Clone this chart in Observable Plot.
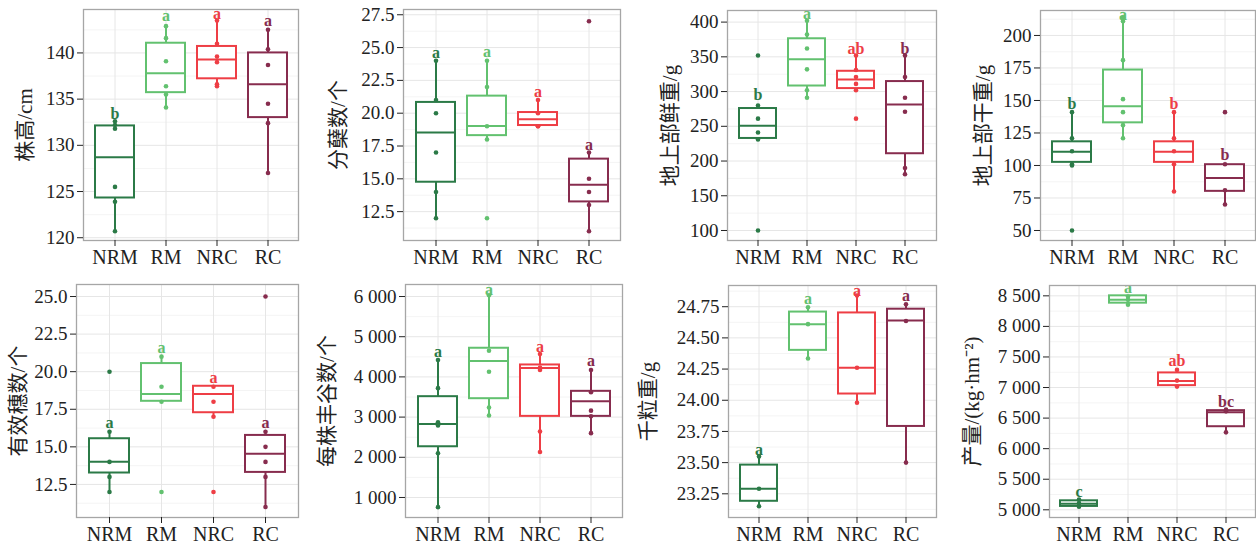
<!DOCTYPE html>
<html>
<head>
<meta charset="utf-8">
<script src="https://cdn.jsdelivr.net/npm/d3@7"></script>
<script src="https://cdn.jsdelivr.net/npm/@observablehq/plot@0.6"></script>
<style>
  html, body { margin: 0; padding: 0; background: #fff; }
  #wrap { position: relative; width: 1256px; height: 546px; overflow: hidden; }
  .cell { position: absolute; }
</style>
</head>
<body>
<div id="wrap"></div>
<script>
const groups = ["NRM", "RM", "NRC", "RC"];
const colors = ["#2b7a47", "#62c16f", "#ee3e45", "#872c4e"];

// Panel 1: 株高/cm
const p1Title = "株高/cm";
const p1Pts = [[120.7,123.9,125.5,131.8,132.2,132.6],[142.9,141.6,139.1,136.4,135.5,134.1],[143.5,141.0,139.6,139.0,136.6,136.4],[142.5,140.4,138.7,134.5,132.4,127.0]];
const p1Box = [[120.7,124.3,128.7,132.1,132.6],[134.1,135.7,137.8,141.05,142.9],[136.4,137.2,139.3,140.7,143.5],[127.0,133.0,136.6,140.0,142.5]];
const p1Lab = ["b","a","a","a"];
const p1LabY = [133.4,144.0,144.2,143.5];
const p1Ticks = [120,125,130,135,140];

// Panel 2: 分蘖数/个
const p2Title = "分蘖数/个";
const p2Pts = [[24,21,20,17,14,12],[24,22,19,18,12],[21,20,19,19],[27,17,15,14,13,11]];
const p2Box = [[12,14.74,18.52,20.82,24],[18,18.29,19.03,21.3,24],[19,19.06,19.54,20.05,21],[11,13.24,14.54,16.5,17]];
const p2Lab = ["a","a","a","a"];
const p2LabY = [24.6,24.7,21.6,17.55];
const p2Ticks = [12.5,15,17.5,20,22.5,25,27.5];

// Panel 3: 地上部鲜重/g
const p3Title = "地上部鲜重/g";
const p3Pts = [[352,280,261,241,231,100],[402,382,362,332,302,291],[352,331,321,311,302,261],[352,321,291,271,190,181]];
const p3Box = [[230,232.5,250.7,275.6,281],[291,308,346.4,376,402],[301,304.3,317.2,329.2,352],[181,210.5,281.3,314.4,352]];
const p3Lab = ["b","a","ab","b"];
const p3LabY = [295.7,412,361.7,361.7];
const p3Ticks = [100,150,200,250,300,350,400];

// Panel 4: 地上部干重/g
const p4Title = "地上部干重/g";
const p4Pts = [[141,121,111,101,100,50],[214,211,181,151,141,131,121],[141,121,111,101,80],[141,101,81,70]];
const p4Box = [[100.3,102.4,110.6,118.2,140.7],[120.5,132.8,145.6,173.4,214],[80.1,102.4,110.6,118.2,140.7],[70.2,80.1,90.4,100.6,100.6]];
const p4Lab = ["b","a","b","b"];
const p4LabY = [147.6,216,147.6,108.5];
const p4Ticks = [50,75,100,125,150,175,200];

// Panel 5: 有效穗数/个
const p5Title = "有效穗数/个";
const p5Pts = [[20,16,14,13,12],[21,19,18,12],[19,18,17,12],[25,16,15,14,13,11]];
const p5Box = [[12,13.26,14.01,15.54,16],[18,18.03,18.52,20.54,21],[17,17.27,18.52,19.03,19],[11,13.3,14.54,15.76,16]];
const p5Lab = ["a","a","a","a"];
const p5LabY = [16.6,21.6,19.6,16.6];
const p5Ticks = [12.5,15,17.5,20,22.5,25];

// Panel 6: 每株丰谷数/个
const p6Title = "每株丰谷数/个";
const p6Pts = [[4420,3720,2870,2790,2100,760],[6030,4650,4130,3240,3040],[4570,4230,4170,2640,2130],[4170,3620,3160,3020,2600]];
const p6Box = [[760,2262,2827,3508,4420],[3035,3458,4397,4713,6030],[2121,3018,4222,4297,4570],[2603,3018,3392,3641,4170]];
const p6Lab = ["a","a","a","a"];
const p6LabY = [4630,6170,4750,4405];
const p6Ticks = [1000,2000,3000,4000,5000,6000];

// Panel 7: 千粒重/g
const p7Title = "千粒重/g";
const p7Pts = [[23.55,23.29,23.15],[24.745,24.61,24.335],[24.84,24.26,23.98],[24.77,24.635,23.5]];
const p7Box = [[23.15,23.19,23.29,23.48,23.545],[24.335,24.40,24.61,24.707,24.745],[23.98,24.05,24.26,24.70,24.84],[23.5,23.79,24.64,24.73,24.77]];
const p7Lab = ["a","a","a","a"];
const p7LabY = [23.6,24.81,24.88,24.84];
const p7Ticks = [23.25,23.5,23.75,24,24.25,24.5,24.75];

// Panel 8: 产量/(kg·hm⁻²)
const p8Title = "产量/(kg·hm⁻²)";
const p8Pts = [[5169,5109,5049],[8489,8434,8353],[7288,7113,7015],[6638,6610,6267]];
const p8Box = [[5049,5055,5100,5147,5169],[8353,8380,8434,8500,8500],[7015,7031,7108,7239,7288],[6267,6359,6594,6622,6638]];
const p8Lab = ["c","a","ab","bc"];
const p8LabY = [5300,8631,7441,6769];
const p8Ticks = [5000,5500,6000,6500,7000,7500,8000,8500];

const spaceFmt = d => d3.format(",")(d).replace(/,/g, " ");

const panels = [
  {title: p1Title, pts: p1Pts, box: p1Box, lab: p1Lab, labY: p1LabY, ticks: p1Ticks, domain: [119.7, 144.7], fmt: d3.format("d"), cell: [0, 0], frame: [83, 298, 9, 240], tOff: 58},
  {title: p2Title, pts: p2Pts, box: p2Box, lab: p2Lab, labY: p2LabY, ticks: p2Ticks, domain: [10.3, 27.9], fmt: d3.format(".1f"), cell: [314, 0], frame: [403, 620, 9, 240], tOff: 65},
  {title: p3Title, pts: p3Pts, box: p3Box, lab: p3Lab, labY: p3LabY, ticks: p3Ticks, domain: [85.6, 416.7], fmt: d3.format("d"), cell: [628, 0], frame: [727, 936, 10, 240], tOff: 57},
  {title: p4Title, pts: p4Pts, box: p4Box, lab: p4Lab, labY: p4LabY, ticks: p4Ticks, domain: [42.3, 219.2], fmt: d3.format("d"), cell: [942, 0], frame: [1040, 1255, 10, 240], tOff: 57},
  {title: p5Title, pts: p5Pts, box: p5Box, lab: p5Lab, labY: p5LabY, ticks: p5Ticks, domain: [10.3, 25.8], fmt: d3.format(".1f"), cell: [0, 270], frame: [76, 298, 284, 517], tOff: 58},
  {title: p6Title, pts: p6Pts, box: p6Box, lab: p6Lab, labY: p6LabY, ticks: p6Ticks, domain: [502, 6299], fmt: spaceFmt, cell: [314, 270], frame: [405, 622, 284, 517], tOff: 78},
  {title: p7Title, pts: p7Pts, box: p7Box, lab: p7Lab, labY: p7LabY, ticks: p7Ticks, domain: [23.06, 24.92], fmt: d3.format(".2f"), cell: [628, 270], frame: [728, 936, 285, 517], tOff: 80},
  {title: p8Title, pts: p8Pts, box: p8Box, lab: p8Lab, labY: p8LabY, ticks: p8Ticks, domain: [4874, 8669], fmt: spaceFmt, cell: [942, 270], frame: [1049, 1255, 285, 517], tOff: 77}
];

function minorTicks(ticks, domain) {
  const step = ticks[1] - ticks[0];
  const out = [ticks[0] - step / 2];
  for (let i = 0; i < ticks.length - 1; i++) out.push((ticks[i] + ticks[i + 1]) / 2);
  out.push(ticks[ticks.length - 1] + step / 2);
  return out.filter(v => v > domain[0] && v < domain[1]);
}

const wrap = document.getElementById("wrap");
for (const p of panels) {
  const [cx, cy] = p.cell;
  const [L, R, T, B] = p.frame;
  const boxes = groups.map((g, i) => ({g, lo: p.box[i][0], q1: p.box[i][1], med: p.box[i][2], q3: p.box[i][3], hi: p.box[i][4], lab: p.lab[i], ly: p.labY[i]}));
  const dots = groups.flatMap((g, i) => p.pts[i].map(v => ({g, v})));
  const mb = 34;
  const chart = Plot.plot({
    width: R - cx + 1,
    height: B - cy + mb,
    marginLeft: L - cx,
    marginRight: 1,
    marginTop: T - cy,
    marginBottom: mb,
    x: {type: "band", domain: groups, paddingInner: 0.24, paddingOuter: 0.22, label: null},
    y: {domain: p.domain, label: null},
    color: {domain: groups, range: colors},
    style: {fontFamily: "'Liberation Serif', 'Noto Sans CJK SC', serif", fontSize: "19px", color: "#222", background: "transparent", overflow: "visible"},
    marks: [
      Plot.ruleY(minorTicks(p.ticks, p.domain), {stroke: "#f1f1f1", strokeWidth: 0.8}),
      Plot.ruleY(p.ticks, {stroke: "#e6e6e6", strokeWidth: 1}),
      Plot.ruleX(groups, {stroke: "#e6e6e6", strokeWidth: 1}),
      Plot.ruleX(boxes, {x: "g", y1: "lo", y2: "q1", stroke: "g", strokeWidth: 2}),
      Plot.ruleX(boxes, {x: "g", y1: "q3", y2: "hi", stroke: "g", strokeWidth: 2}),
      Plot.barY(boxes, {x: "g", y1: "q1", y2: "q3", fill: "white", stroke: "g", strokeWidth: 2}),
      Plot.tickY(boxes, {x: "g", y: "med", stroke: "g", strokeWidth: 2}),
      Plot.dot(dots, {x: "g", y: "v", fill: "g", r: 2.3}),
      Plot.text(boxes, {x: "g", y: "ly", text: "lab", fill: "g", fontWeight: "bold", fontSize: 16}),
      Plot.frame({stroke: "#a6a6a6", strokeWidth: 1.3}),
      Plot.axisY({ticks: p.ticks, tickFormat: p.fmt, tickSize: 6, tickPadding: 3, fontSize: 19, label: null}),
      Plot.axisX({tickSize: 6, tickPadding: 3, fontSize: 20, label: null}),
      Plot.text([p.title], {frameAnchor: "left", textAnchor: "middle", dx: -p.tOff, rotate: -90, fontSize: 21, text: d => d, fill: "#222"})
    ]
  });
  const div = document.createElement("div");
  div.className = "cell";
  div.style.left = cx + "px";
  div.style.top = cy + "px";
  div.appendChild(chart);
  wrap.appendChild(div);
}
</script>
</body>
</html>
